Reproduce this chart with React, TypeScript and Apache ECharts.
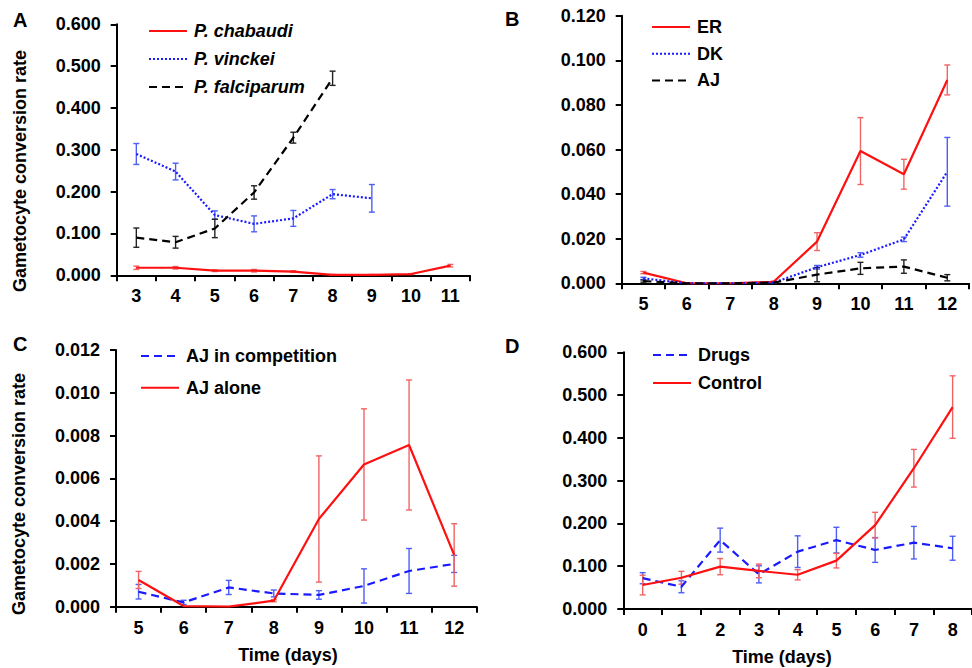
import React, { useEffect, useRef } from "react";
import * as echarts from "echarts";

// ---------- Data ----------
const daysA = ["3", "4", "5", "6", "7", "8", "9", "10", "11"];
const chabaudi = [0.018, 0.018, 0.011, 0.011, 0.009, 0.001, 0.001, 0.003, 0.023];
const chabaudiErr = [0.004, 0.003, 0.002, 0.003, 0.002, 0.001, 0.001, 0.001, 0.003];
const vinckei = [0.29, 0.248, 0.144, 0.123, 0.136, 0.194, 0.184, null, null];
const vinckeiErr = [0.025, 0.02, 0.01, 0.019, 0.019, 0.011, 0.033, null, null];
const falciparum = [0.09, 0.079, 0.112, 0.198, 0.329, 0.471, null, null, null];
const falciparumErr = [0.023, 0.014, 0.022, 0.016, 0.013, 0.017, null, null, null];

const daysB = ["5", "6", "7", "8", "9", "10", "11", "12"];
const er = [0.0048, 0, 0, 0.0007, 0.0187, 0.0593, 0.0489, 0.0912];
const erErr = [0.0005, 0, 0, 0.0003, 0.004, 0.015, 0.0067, 0.0067];
const dk = [0.0022, 0, 0, 0.0003, 0.0072, 0.0127, 0.0197, 0.05];
const dkErr = [0.0005, 0, 0, 0.0002, 0.0008, 0.001, 0.001, 0.0154];
const aj = [0.001, 0, 0, 0.0003, 0.0039, 0.0067, 0.0075, 0.0025];
const ajErr = [0.0005, 0, 0, 0.0002, 0.0032, 0.0027, 0.003, 0.0014];

const daysC = ["5", "6", "7", "8", "9", "10", "11", "12"];
const ajComp = [0.0007, 0.0002, 0.0009, 0.00062, 0.00055, 0.00097, 0.00167, 0.002];
const ajCompErr = [0.00034, 0.0001, 0.00033, 0.00016, 0.0002, 0.0008, 0.00105, 0.0004];
const ajAlone = [0.00125, 0.00003, 0, 0.00028, 0.0041, 0.00665, 0.00756, 0.00242];
const ajAloneErr = [0.0004, 0, 0, 0.00005, 0.00295, 0.0026, 0.00304, 0.00146];

const daysD = ["0", "1", "2", "3", "4", "5", "6", "7", "8"];
const drugs = [0.072, 0.052, 0.161, 0.081, 0.134, 0.161, 0.138, 0.155, 0.142];
const drugsErr = [0.013, 0.014, 0.028, 0.02, 0.037, 0.03, 0.029, 0.038, 0.028];
const control = [0.056, 0.073, 0.099, 0.089, 0.08, 0.113, 0.196, 0.329, 0.472];
const controlErr = [0.023, 0.015, 0.019, 0.016, 0.012, 0.017, 0.03, 0.044, 0.073];

// ---------- Styles ----------
const FONT = "'Liberation Sans', Arial, Helvetica, sans-serif";
const RED = "#ff1010";
const BLUE = "#1a1aff";
const BLACK = "#000000";
const RED_ERR = "#f26464";
const BLUE_ERR = "#4d5ff5";
const BLACK_ERR = "#222222";

function errData(vals: (number | null)[], errs: (number | null)[]) {
  const out: number[][] = [];
  vals.forEach((v, i) => {
    const e = errs[i];
    if (v == null || e == null || e <= 0) return;
    out.push([i, Math.max(0, v - e), v + e]);
  });
  return out;
}

function errSeries(idx: number, vals: (number | null)[], errs: (number | null)[], color: string) {
  return {
    type: "custom",
    xAxisIndex: idx,
    yAxisIndex: idx,
    silent: true,
    z: 3,
    data: errData(vals, errs),
    encode: { x: 0, y: [1, 2] },
    renderItem: (params: any, api: any) => {
      const x = api.value(0);
      const lo = api.coord([x, api.value(1)]);
      const hi = api.coord([x, api.value(2)]);
      const w = 3;
      const style = { stroke: color, lineWidth: 1.4 };
      return {
        type: "group",
        children: [
          { type: "line", shape: { x1: lo[0], y1: lo[1], x2: hi[0], y2: hi[1] }, style },
          { type: "line", shape: { x1: lo[0] - w, y1: lo[1], x2: lo[0] + w, y2: lo[1] }, style },
          { type: "line", shape: { x1: hi[0] - w, y1: hi[1], x2: hi[0] + w, y2: hi[1] }, style },
        ],
      };
    },
  };
}

function lineSeries(idx: number, name: string, data: (number | null)[], color: string, type: any) {
  return {
    type: "line",
    name,
    xAxisIndex: idx,
    yAxisIndex: idx,
    data,
    symbol: "none",
    connectNulls: false,
    z: 4,
    lineStyle: { color, width: 2.2, type },
    itemStyle: { color },
  };
}

const DASH = [8, 5];
const DOT = [2, 2];

const axisLabelStyle = { fontFamily: FONT, fontWeight: "bold", fontSize: 18, color: "#000" };

function xAxis(idx: number, cats: string[]) {
  return {
    type: "category",
    gridIndex: idx,
    data: cats,
    boundaryGap: true,
    axisLine: { lineStyle: { color: "#000", width: 2 } },
    axisTick: { show: true, length: 6, lineStyle: { color: "#000", width: 2 } },
    axisLabel: { ...axisLabelStyle, margin: 12 },
    splitLine: { show: false },
  };
}

function yAxis(idx: number, max: number, interval: number) {
  return {
    type: "value",
    gridIndex: idx,
    min: 0,
    max,
    interval,
    axisLine: { show: true, lineStyle: { color: "#000", width: 2 } },
    axisTick: { show: true, length: 6, lineStyle: { color: "#000", width: 2 } },
    axisLabel: { ...axisLabelStyle, margin: 16, formatter: (v: number) => v.toFixed(3) },
    splitLine: { show: false },
  };
}

function legend(names: string[], left: number, top: number, gap: number, italic = false) {
  return {
    data: names,
    orient: "vertical",
    left,
    top,
    itemGap: gap,
    itemWidth: 38,
    itemHeight: 14,
    padding: 0,
    itemStyle: { opacity: 0 },
    textStyle: {
      fontFamily: FONT,
      fontWeight: "bold",
      fontStyle: italic ? "italic" : "normal",
      fontSize: 18,
      lineHeight: 18,
      color: "#000",
      padding: [0, 0, 0, 2],
    },
    selectedMode: false,
  };
}

function label(text: string, x: number, y: number, size = 20, rotate = 0, align = "left") {
  return {
    type: "text",
    x,
    y,
    rotation: rotate,
    style: {
      text,
      fontFamily: FONT,
      fontWeight: "bold",
      fontSize: size,
      fill: "#000",
      textAlign: align,
      textVerticalAlign: "middle",
    },
  };
}

export default function App() {
  const ref = useRef<HTMLDivElement>(null);

  useEffect(() => {
    if (!ref.current) return;
    const chart = echarts.init(ref.current, null, { renderer: "svg" });
    const option: any = {
      animation: false,
      backgroundColor: "#ffffff",
      grid: [
        { left: 116.7, top: 24.3, width: 353.3, height: 251 },
        { left: 621.7, top: 15.7, width: 347.3, height: 267.6 },
        { left: 116, top: 350, width: 360.7, height: 256.7 },
        { left: 623.3, top: 352.3, width: 352.7, height: 256.7 },
      ],
      xAxis: [xAxis(0, daysA), xAxis(1, daysB), xAxis(2, daysC), xAxis(3, daysD)],
      yAxis: [yAxis(0, 0.6, 0.1), yAxis(1, 0.12, 0.02), yAxis(2, 0.012, 0.002), yAxis(3, 0.6, 0.1)],
      legend: [
        legend(["P. chabaudi", "P. vinckei", "P. falciparum"], 148, 22, 10, true),
        legend(["ER", "DK", "AJ"], 651, 18, 8.7),
        legend(["AJ in competition", "AJ alone"], 140, 347, 13.7),
        legend(["Drugs", "Control"], 652, 346, 10),
      ],
      graphic: [
        label("A", 13, 20),
        label("B", 505, 19),
        label("C", 13, 344),
        label("D", 505, 345.5),
        label("Gametocyte conversion rate", 20, 171, 18, Math.PI / 2, "center"),
        label("Gametocyte conversion rate", 19, 494, 18, Math.PI / 2, "center"),
        label("Time (days)", 288, 655, 18, 0, "center"),
        label("Time (days)", 782, 656.7, 18, 0, "center"),
      ],
      series: [
        errSeries(0, chabaudi, chabaudiErr, RED_ERR),
        errSeries(0, vinckei, vinckeiErr, BLUE_ERR),
        errSeries(0, falciparum, falciparumErr, BLACK_ERR),
        lineSeries(0, "P. chabaudi", chabaudi, RED, "solid"),
        lineSeries(0, "P. vinckei", vinckei, BLUE, DOT),
        lineSeries(0, "P. falciparum", falciparum, BLACK, DASH),

        errSeries(1, er, erErr, RED_ERR),
        errSeries(1, dk, dkErr, BLUE_ERR),
        errSeries(1, aj, ajErr, BLACK_ERR),
        lineSeries(1, "ER", er, RED, "solid"),
        lineSeries(1, "DK", dk, BLUE, DOT),
        lineSeries(1, "AJ", aj, BLACK, DASH),

        errSeries(2, ajComp, ajCompErr, BLUE_ERR),
        errSeries(2, ajAlone, ajAloneErr, RED_ERR),
        lineSeries(2, "AJ in competition", ajComp, BLUE, DASH),
        lineSeries(2, "AJ alone", ajAlone, RED, "solid"),

        errSeries(3, drugs, drugsErr, BLUE_ERR),
        errSeries(3, control, controlErr, RED_ERR),
        lineSeries(3, "Drugs", drugs, BLUE, DASH),
        lineSeries(3, "Control", control, RED, "solid"),
      ],
    };
    chart.setOption(option);
    return () => chart.dispose();
  }, []);

  return (
    <div
      ref={ref}
      style={{ position: "absolute", left: 0, top: 0, width: 972, height: 668, background: "#fff" }}
    />
  );
}
